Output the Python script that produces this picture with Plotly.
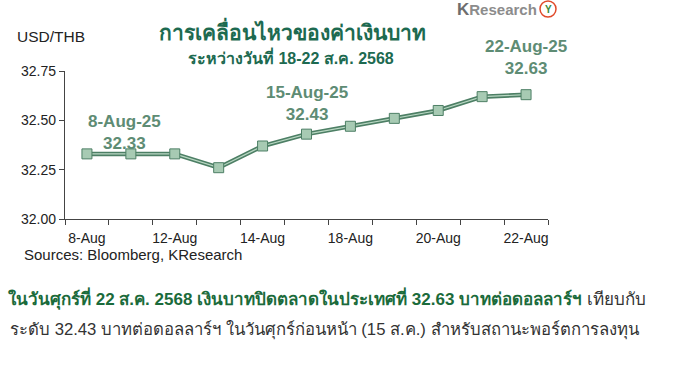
import plotly.graph_objects as go

# ---- data ----
categories = ["8-Aug", "11-Aug", "12-Aug", "13-Aug", "14-Aug", "15-Aug",
              "18-Aug", "19-Aug", "20-Aug", "21-Aug", "22-Aug"]
usd_thb = [32.33, 32.33, 32.33, 32.26, 32.37, 32.43, 32.47, 32.51, 32.55, 32.62, 32.63]
tick_labels = ["8-Aug", "12-Aug", "14-Aug", "18-Aug", "20-Aug", "22-Aug"]
y_ticks = [32.00, 32.25, 32.50, 32.75]

W, H = 682, 383
L, R, T, B = 65, 134, 71, 164
PW, PH = W - L - R, H - T - B

def px(x):
    return (x - L) / PW

def py(y):
    return (H - B - y) / PH

xs = list(range(len(categories)))
label_pos = [categories.index(c) for c in tick_labels]
boundaries = [i - 0.5 for i in range(len(categories) + 1)]

NARROW = "Liberation Sans Narrow, Arial Narrow, Liberation Sans, Arial"
DARK = "#4d7f65"
LIGHT = "#a7cab3"
ANN = "#5e8c74"

fig = go.Figure()
fig.add_trace(go.Scatter(x=xs, y=usd_thb, mode="lines",
                         line=dict(color=DARK, width=4.5), hoverinfo="skip",
                         showlegend=False))
fig.add_trace(go.Scatter(x=xs, y=usd_thb, mode="lines+markers",
                         line=dict(color="#b9d8c3", width=1.2),
                         marker=dict(symbol="square", size=10, color=LIGHT,
                                     line=dict(color=DARK, width=1)),
                         text=categories, showlegend=False, xaxis="x2"))

fig.update_layout(
    width=W, height=H,
    margin=dict(l=L, r=R, t=T, b=B),
    paper_bgcolor="white", plot_bgcolor="white",
    font=dict(family=NARROW, size=14, color="#222"),
    xaxis=dict(range=[-0.5, len(categories) - 0.5], tickvals=boundaries,
               showticklabels=False, ticks="outside", ticklen=5,
               tickcolor="#444", showline=True, linecolor="#444", linewidth=1.2,
               showgrid=False, zeroline=False),
    xaxis2=dict(range=[-0.5, len(categories) - 0.5], overlaying="x",
                tickvals=label_pos, ticktext=tick_labels, ticks="",
                ticklabelstandoff=9,
                showline=False, showgrid=False, zeroline=False, side="bottom",
                tickfont=dict(family=NARROW, size=14, color="#222")),
    yaxis=dict(range=[32.0, 32.75], tickvals=y_ticks, tickformat=".2f",
               ticks="outside", ticklen=5, tickcolor="#444",
               showline=True, linecolor="#444", linewidth=1.2,
               showgrid=False, zeroline=False,
               tickfont=dict(family=NARROW, size=14, color="#222")),
)

anns = []
# value labels
for cat, xoff, yc in [("8-Aug", 0.86, 132), ("15-Aug", 0, 103), ("22-Aug", 0, 58)]:
    i = categories.index(cat)
    anns.append(dict(x=i + xoff, xref="x", y=py(yc), yref="paper",
                     text=f"<b>{cat}-25<br>{usd_thb[i]:.2f}</b>", showarrow=False,
                     font=dict(family=NARROW, size=17, color=ANN),
                     align="center", xanchor="center", yanchor="middle"))

anns += [
    dict(x=px(292), y=py(30), xref="paper", yref="paper", showarrow=False,
         text="<b>การเคลื่อนไหวของค่าเงินบาท</b>", xanchor="center", yanchor="middle",
         font=dict(size=21, color="#1d6a50")),
    dict(x=px(291), y=py(57), xref="paper", yref="paper", showarrow=False,
         text="<b>ระหว่างวันที่ 18-22 ส.ค. 2568</b>", xanchor="center", yanchor="middle",
         font=dict(size=16, color="#1d6a50")),
    dict(x=px(15), y=py(36), xref="paper", yref="paper", showarrow=False,
         text="USD/THB", xanchor="left", yanchor="middle",
         font=dict(family=NARROW, size=15.5, color="#222")),
    dict(x=px(22), y=py(254), xref="paper", yref="paper", showarrow=False,
         text="Sources: Bloomberg, KResearch", xanchor="left", yanchor="middle",
         font=dict(family=NARROW, size=15, color="#222")),
    dict(x=px(539), y=py(9), xref="paper", yref="paper", showarrow=False,
         text="<b><span style='font-size:17px;color:#6e6e6e'>K</span>Research</b>", xanchor="right",
         yanchor="middle", font=dict(family=NARROW, size=15, color="#8c8c8c")),
    dict(x=px(548), y=py(9), xref="paper", yref="paper", showarrow=False,
         text="<b>Y</b>", xanchor="center", yanchor="middle",
         font=dict(family="Liberation Sans", size=10, color="#3a8a3a")),
    dict(x=px(6), y=py(298), xref="paper", yref="paper", showarrow=False,
         text=("<span style='color:#1b6b3b'><b>ในวันศุกร์ที่ 22 ส.ค. 2568 เงินบาทปิดตลาดในประเทศที่ 32.63 "
               "บาทต่อดอลลาร์ฯ</b></span> เทียบกับ"),
         xanchor="left", yanchor="middle", font=dict(size=17, color="#333")),
    dict(x=px(8), y=py(330), xref="paper", yref="paper", showarrow=False,
         text="ระดับ 32.43 บาทต่อดอลลาร์ฯ ในวันศุกร์ก่อนหน้า (15 ส.ค.) สำหรับสถานะพอร์ตการลงทุน",
         xanchor="left", yanchor="middle", font=dict(size=16.7, color="#333")),
]
fig.update_layout(annotations=anns)
fig.add_shape(type="circle", xref="paper", yref="paper",
              x0=px(540), x1=px(556), y0=py(17), y1=py(1),
              line=dict(color="#e04a2a", width=1.5), fillcolor="white", layer="below")

fig.write_html("out.html", config={"displayModeBar": False},
               post_script="document.body.style.margin='0';document.body.style.padding='0';")
